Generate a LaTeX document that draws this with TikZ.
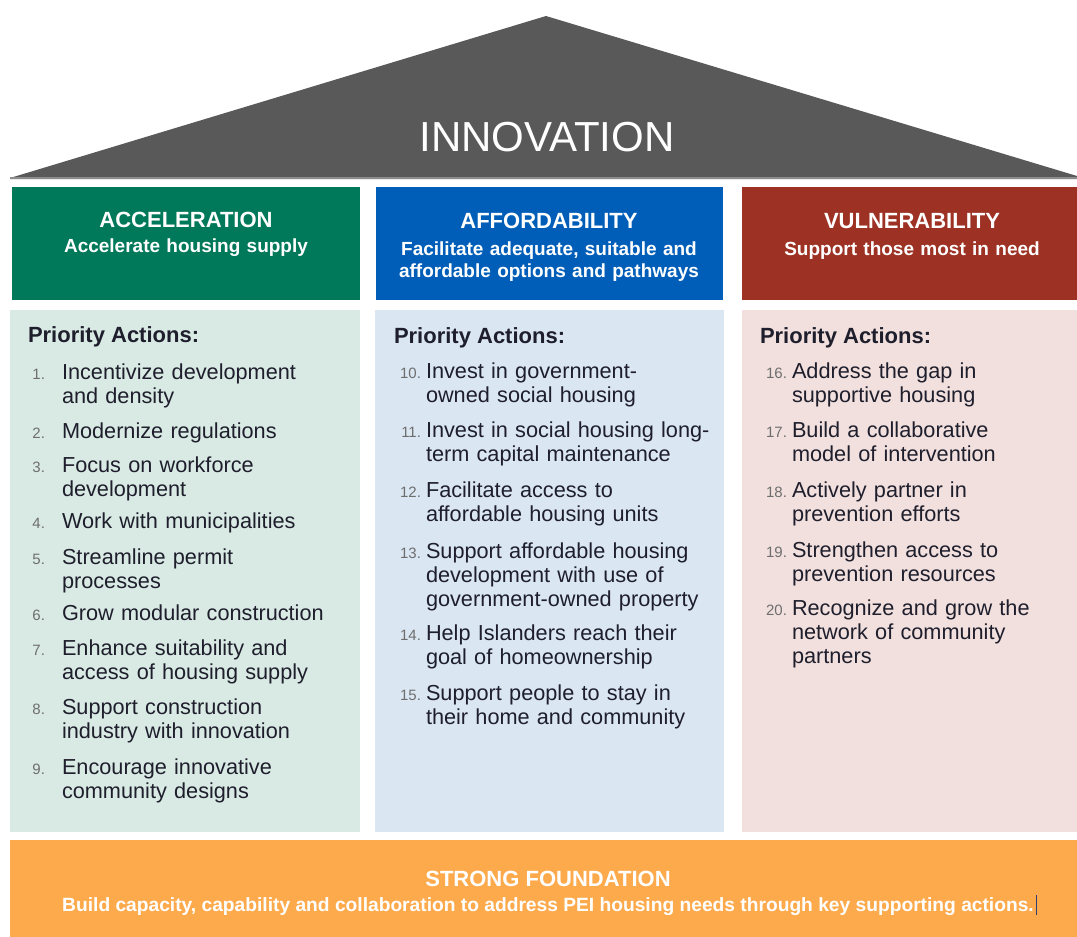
\documentclass[tikz,border=0pt]{standalone}
\usepackage{fontspec}
\setmainfont{Liberation Sans}
\definecolor{roofgray}{HTML}{595959}
\definecolor{roofedge}{HTML}{8C8C8C}
\definecolor{accelgreen}{HTML}{00785A}
\definecolor{affordblue}{HTML}{005EB8}
\definecolor{vulnerred}{HTML}{9D3224}
\definecolor{foundorange}{HTML}{FDAA4D}
\definecolor{accellight}{HTML}{D9EAE4}
\definecolor{affordlight}{HTML}{DAE6F2}
\definecolor{vulnerlight}{HTML}{F1E0DE}
\definecolor{textdark}{HTML}{1E1E2C}
\definecolor{numgray}{HTML}{6E6E6E}
\definecolor{cursorblue}{HTML}{2B3F73}
\tikzstyle{every node}=[inner sep=0pt, outer sep=0pt]
\tikzstyle{pillartitle}=[white, font=\fontsize{22}{26}\selectfont\bfseries, anchor=base]
\tikzstyle{pillarsub}=[white, font=\fontsize{19}{22}\selectfont\bfseries, text width=340pt, align=center, anchor=base]
\tikzstyle{heading}=[textdark, font=\fontsize{22}{26}\selectfont\bfseries, anchor=base west]
\tikzstyle{num}=[numgray, font=\fontsize{15}{18}\selectfont, anchor=base east]
\tikzstyle{action}=[textdark, font=\fontsize{21.7}{24}\selectfont, text width=310pt, align=left, anchor=base west]

\begin{document}
\begin{tikzpicture}[x=1pt, y=-1pt]
\useasboundingbox (0,0) rectangle (1077,937);
% Roof
    \fill[roofgray] (10,178) -- (546,16) -- (1077,176) -- (1077,179) -- (10,179) -- cycle;
    \draw[roofedge, line width=2pt] (10,178) -- (1077,178);
    \node[white, font=\fontsize{42}{46}\selectfont, anchor=base] (roof) at (547,151) {INNOVATION};
% Pillar headers
    \fill[accelgreen] (12,187) rectangle (360,300);
    \fill[affordblue] (376,187) rectangle (723,300);
    \fill[vulnerred] (742,187) rectangle (1077,300);
    \node[pillartitle] (accel) at (186,227) {ACCELERATION};
    \node[pillarsub] (accelsub) at (186,252) {Accelerate housing supply};
    \node[pillartitle] (afford) at (549,228) {AFFORDABILITY};
    \node[pillarsub] (affordsub) at (549,255) {Facilitate adequate, suitable and\\affordable options and pathways};
    \node[pillartitle] (vulner) at (912,228) {VULNERABILITY};
    \node[pillarsub] (vulnersub) at (912,255) {Support those most in need};
% Pillar bodies
    \fill[accellight] (10,310) rectangle (360,832);
    \fill[affordlight] (375,310) rectangle (724,832);
    \fill[vulnerlight] (742,310) rectangle (1077,832);
% Acceleration actions
    \node[heading] (accelhead) at (28,342) {Priority Actions:};
    \node[num] (n1) at (45,379) {1.};
    \node[action] (a1) at (62,379) {Incentivize development\\and density};
    \node[num] (n2) at (45,438) {2.};
    \node[action] (a2) at (62,438) {Modernize regulations};
    \node[num] (n3) at (45,472) {3.};
    \node[action] (a3) at (62,472) {Focus on workforce\\development};
    \node[num] (n4) at (45,528) {4.};
    \node[action] (a4) at (62,528) {Work with municipalities};
    \node[num] (n5) at (45,564) {5.};
    \node[action] (a5) at (62,564) {Streamline permit\\processes};
    \node[num] (n6) at (45,620) {6.};
    \node[action] (a6) at (62,620) {Grow modular construction};
    \node[num] (n7) at (45,655) {7.};
    \node[action] (a7) at (62,655) {Enhance suitability and\\access of housing supply};
    \node[num] (n8) at (45,714) {8.};
    \node[action] (a8) at (62,714) {Support construction\\industry with innovation};
    \node[num] (n9) at (45,774) {9.};
    \node[action] (a9) at (62,774) {Encourage innovative\\community designs};
% Affordability actions
    \node[heading] (affordhead) at (394,343) {Priority Actions:};
    \node[num] (n10) at (421,378) {10.};
    \node[action] (a10) at (426,378) {Invest in government-\\owned social housing};
    \node[num] (n11) at (421,437) {11.};
    \node[action] (a11) at (426,437) {Invest in social housing long-\\term capital maintenance};
    \node[num] (n12) at (421,497) {12.};
    \node[action] (a12) at (426,497) {Facilitate access to\\affordable housing units};
    \node[num] (n13) at (421,558) {13.};
    \node[action] (a13) at (426,558) {Support affordable housing\\development with use of\\government-owned property};
    \node[num] (n14) at (421,640) {14.};
    \node[action] (a14) at (426,640) {Help Islanders reach their\\goal of homeownership};
    \node[num] (n15) at (421,700) {15.};
    \node[action] (a15) at (426,700) {Support people to stay in\\their home and community};
% Vulnerability actions
    \node[heading] (vulnerhead) at (760,343) {Priority Actions:};
    \node[num] (n16) at (787,378) {16.};
    \node[action] (a16) at (792,378) {Address the gap in\\supportive housing};
    \node[num] (n17) at (787,437) {17.};
    \node[action] (a17) at (792,437) {Build a collaborative\\model of intervention};
    \node[num] (n18) at (787,497) {18.};
    \node[action] (a18) at (792,497) {Actively partner in\\prevention efforts};
    \node[num] (n19) at (787,557) {19.};
    \node[action] (a19) at (792,557) {Strengthen access to\\prevention resources};
    \node[num] (n20) at (787,615) {20.};
    \node[action] (a20) at (792,615) {Recognize and grow the\\network of community\\partners};
% Foundation
    \fill[foundorange] (10,840) rectangle (1077,937);
    \node[white, font=\fontsize{22}{26}\selectfont\bfseries, anchor=base] (found) at (548,886) {STRONG FOUNDATION};
    \node[white, font=\fontsize{19.2}{22}\selectfont\bfseries, anchor=base] (foundsub) at (548,911) {Build capacity, capability and collaboration to address PEI housing needs through key supporting actions.};
    \draw[cursorblue, line width=1.2pt] ([xshift=3pt, yshift=-4pt]foundsub.base east) -- ([xshift=3pt, yshift=16pt]foundsub.base east);
\end{tikzpicture}
\end{document}
